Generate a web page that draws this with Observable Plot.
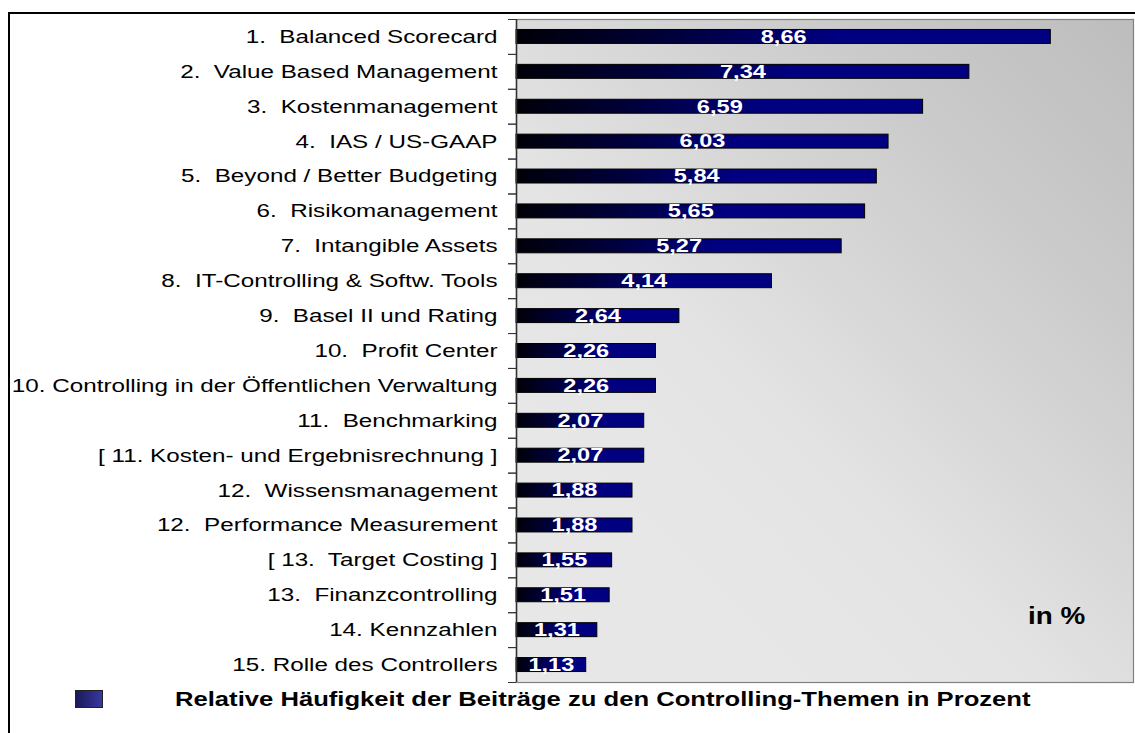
<!DOCTYPE html>
<html>
<head>
<meta charset="utf-8">
<script src="https://cdn.jsdelivr.net/npm/d3@7"></script>
<script src="https://cdn.jsdelivr.net/npm/@observablehq/plot@0.6"></script>
<style>
  html, body { margin: 0; padding: 0; background: #fff; width: 1135px; height: 733px; overflow: hidden; }
  body { font-family: "Liberation Sans", Arial, sans-serif; position: relative; }
  #frame { position: absolute; left: 8px; top: 12px; width: 1200px; height: 800px; border: 2px solid #000; box-sizing: border-box; }
  #chart { position: absolute; left: 0; top: 0; }
  #chart svg text { white-space: pre; }
  #swatch { position: absolute; left: 75px; top: 690px; width: 28px; height: 18px; box-sizing: border-box; border: 1px solid #222; background: linear-gradient(to right, #1a1a58, #3838a0); }
  #legend { position: absolute; left: 175px; top: 687px; font-size: 21px; font-weight: bold; color: #000; white-space: nowrap; transform: scaleX(1.22); transform-origin: left center; }
  #unit { position: absolute; left: 1028px; top: 602px; font-size: 24px; font-weight: bold; color: #000; white-space: nowrap; transform: scaleX(1.16); transform-origin: left center; }
</style>
</head>
<body>
<div id="frame"></div>
<div id="chart"></div>
<div id="swatch"></div>
<div id="legend"></div>
<div id="unit"></div>
<script>
const categories = [
  "1.  Balanced Scorecard",
  "2.  Value Based Management",
  "3.  Kostenmanagement",
  "4.  IAS / US-GAAP",
  "5.  Beyond / Better Budgeting",
  "6.  Risikomanagement",
  "7.  Intangible Assets",
  "8.  IT-Controlling & Softw. Tools",
  "9.  Basel II und Rating",
  "10.  Profit Center",
  "10. Controlling in der Öffentlichen Verwaltung",
  "11.  Benchmarking",
  "[ 11. Kosten- und Ergebnisrechnung ]",
  "12.  Wissensmanagement",
  "12.  Performance Measurement",
  "[ 13.  Target Costing ]",
  "13.  Finanzcontrolling",
  "14. Kennzahlen",
  "15. Rolle des Controllers"
];
const values = [8.66, 7.34, 6.59, 6.03, 5.84, 5.65, 5.27, 4.14, 2.64, 2.26, 2.26, 2.07, 2.07, 1.88, 1.88, 1.55, 1.51, 1.31, 1.13];
const legendLabel = "Relative Häufigkeit der Beiträge zu den Controlling-Themen in Prozent";
const unitLabel = "in %";
const xDomain = [0, 10];

const data = categories.map((c, i) => ({category: c, value: values[i]}));
const fmt = v => d3.format(".2f")(v).replace(".", ",");

const W = 1135, H = 690;
const mTop = 19, mBottom = 8, mLeft = 516, mRight = 2;
const step = (H - mTop - mBottom) / categories.length;

function defs() {
  const d = d3.create("svg:defs");
  const bar = d.append("linearGradient").attr("id", "barGrad").attr("x1", 0).attr("y1", 0).attr("x2", 1).attr("y2", 0);
  bar.append("stop").attr("offset", 0).attr("stop-color", "#000008");
  bar.append("stop").attr("offset", 0.3).attr("stop-color", "#00003e");
  bar.append("stop").attr("offset", 0.6).attr("stop-color", "#000080");
  bar.append("stop").attr("offset", 1).attr("stop-color", "#000080");
  const bg = d.append("linearGradient").attr("id", "bgGrad").attr("x1", 1).attr("y1", 0).attr("x2", 0.25).attr("y2", 0.8);
  bg.append("stop").attr("offset", 0).attr("stop-color", "#bdbdbd");
  bg.append("stop").attr("offset", 0.3).attr("stop-color", "#cacaca");
  bg.append("stop").attr("offset", 0.75).attr("stop-color", "#e3e3e3");
  bg.append("stop").attr("offset", 1).attr("stop-color", "#e7e7e7");
  return d.node();
}

const chart = Plot.plot({
  width: W,
  height: H,
  marginTop: mTop,
  marginBottom: mBottom,
  marginLeft: mLeft,
  marginRight: mRight,
  style: {fontFamily: "Liberation Sans, Arial, sans-serif", background: "transparent", overflow: "visible"},
  x: {domain: xDomain, axis: null},
  y: {domain: categories, paddingInner: 0.6, paddingOuter: 0.3, round: false, axis: null},
  marks: [
    defs,
    Plot.frame({fill: "url(#bgGrad)", stroke: "#808080", strokeWidth: 1.2}),
    Plot.barX(data, {x: "value", y: "category", fill: "url(#barGrad)", stroke: "#000", strokeWidth: 1}),
    Plot.ruleX([0], {stroke: "#333", strokeWidth: 1.5}),
    Plot.axisY({tickSize: 0, tickPadding: 19, fontSize: 18.5, fill: "#000", label: null}),
    Plot.axisY({tickSize: 8, text: null, dy: -step / 2, stroke: "#333", label: null}),
    Plot.axisY({tickSize: 8, text: null, dy: step / 2, stroke: "#333", label: null}),
    Plot.text(data, {x: d => d.value / 2, y: "category", text: d => fmt(d.value), fill: "#fff", fontWeight: "bold", fontSize: 18, ariaLabel: "vals"})
  ]
});

// horizontally stretch text around its anchor point (the reference font is rendered wide)
function stretch(el, s) {
  const t = el.getAttribute("transform") || "";
  const xa = el.getAttribute("x");
  let x = 0;
  if (xa != null && /^-?[\d.]+$/.test(xa)) { x = +xa; el.removeAttribute("x"); }
  el.setAttribute("transform", `${t} translate(${x},0) scale(${s},1)`);
}
d3.select(chart).selectAll("text").each(function() {
  const inVals = this.closest('g[aria-label="vals"]');
  stretch(this, inVals ? 1.2 : 1.31);
});

document.getElementById("chart").append(chart);
document.getElementById("legend").textContent = legendLabel;
document.getElementById("unit").textContent = unitLabel;
</script>
</body>
</html>
